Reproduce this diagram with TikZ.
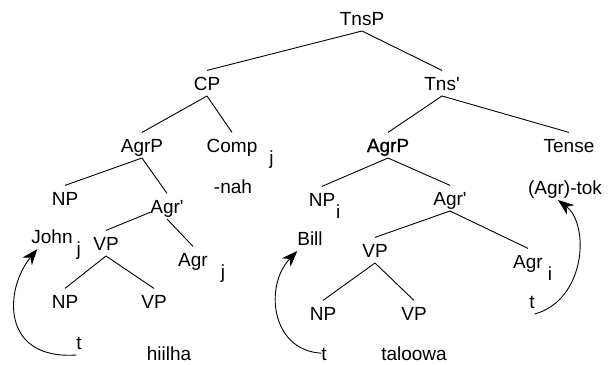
\documentclass[tikz,border=0pt]{standalone}
\usepackage{fontspec}
\setmainfont{Liberation Sans}[Ligatures=TeXOff]
\newfontfamily\heavyfont{Liberation Sans}[Ligatures=TeXOff,FakeBold=1]
\usepackage{tikz}
\usetikzlibrary{arrows.meta}

% index letter set low after a category label
\newcommand{\idx}[2][5pt]{\rlap{\hspace{#1}\raisebox{-12pt}{#2}}}

\begin{document}
\begin{tikzpicture}[x=1pt,y=-1pt,line width=0.9pt,
  lbl/.style={anchor=base, inner sep=0pt, outer xsep=0pt, outer ysep=6pt,
    text height=13.6pt, text depth=0pt, font=\fontsize{19}{22}\selectfont},
  move/.style={-{Stealth[length=16pt,width=12pt,inset=5pt]}}]
\useasboundingbox (0,0) rectangle (610,364);

\node[lbl] (tnsp) at (362,25) {TnsP};
\node[lbl] (cp) at (207,90) {CP};
\node[lbl] (tnsbar) at (442,90) {Tns'};
\node[lbl] (agrp1) at (142,152) {AgrP};
\node[lbl] (comp) at (232,152) {Comp\idx[12pt]{j}};
\node[lbl] (agrp2) at (388,152) {\heavyfont AgrP};
\node[lbl] (tense) at (569,152) {Tense};
\node[lbl] (np1) at (65,205) {NP};
\node[lbl] (nah) at (233,193) {-nah};
\node[lbl] (agrbar1) at (167,213) {Agr'};
\node[lbl] (npi) at (322,206) {NP\idx[1pt]{i}};
\node[lbl] (agrbar2) at (450,205) {Agr'};
\node[lbl] (agrtok) at (565,194) {(Agr)-tok};
\node[lbl] (john) at (52,243) {John\idx[4pt]{j}};
\node[lbl] (vp1) at (106,250) {VP};
\node[lbl] (bill) at (310,245) {Bill};
\node[lbl] (vp2) at (375,257) {VP};
\node[lbl] (agr1) at (193,266) {Agr\idx[13pt]{j}};
\node[lbl] (agr2) at (528,268) {Agr\idx[5pt]{i}};
\node[lbl] (np2) at (65,308) {NP};
\node[lbl] (vp3) at (154,308) {VP};
\node[lbl] (np3) at (323,320) {NP};
\node[lbl] (vp4) at (414,320) {VP};
\node[lbl] (t1) at (79,349) {t};
\node[lbl] (t2) at (532,308) {t};
\node[lbl] (hiilha) at (169,360) {hiilha};
\node[lbl] (t3) at (324,360) {t};
\node[lbl] (taloowa) at (414,360) {taloowa};

\draw (tnsp.south) -- (cp.north);
\draw (tnsp.south) -- (tnsbar.north);
\draw (cp.south) -- (agrp1.north);
\draw (cp.south) -- (comp.north);
\draw (tnsbar.south) -- (agrp2.north);
\draw (tnsbar.south) -- (tense.north);

\draw (agrp1.south) -- (np1.north);
\draw (agrp1.south) -- (agrbar1.north);
\draw (agrbar1.200) -- (vp1.north);
\draw (agrbar1.south) -- (agr1.north);
\draw (vp1.south) -- (np2.north);
\draw (vp1.south) -- (vp3.north);

\draw (agrp2.south) -- (npi.north);
\draw (agrp2.south) -- (agrbar2.north);
\draw (agrbar2.south) -- (vp2.north);
\draw (agrbar2.south) -- (agr2.north);
\draw (vp2.south) -- (np3.north);
\draw (vp2.south) -- (vp4.north);

% traces moved up to their landing sites
\draw[move] (t1.south west) .. controls +(-76,5) and +(-33,40) .. ([xshift=6pt]john.south west);
\draw[move] (t3.west) .. controls +(-51,-3) and +(-33,34) .. (bill.south west);
\draw[move] (t2.south east) .. controls +(51,-14) and +(32,25) .. ([xshift=-7pt]agrtok.south);

\end{tikzpicture}
\end{document}
